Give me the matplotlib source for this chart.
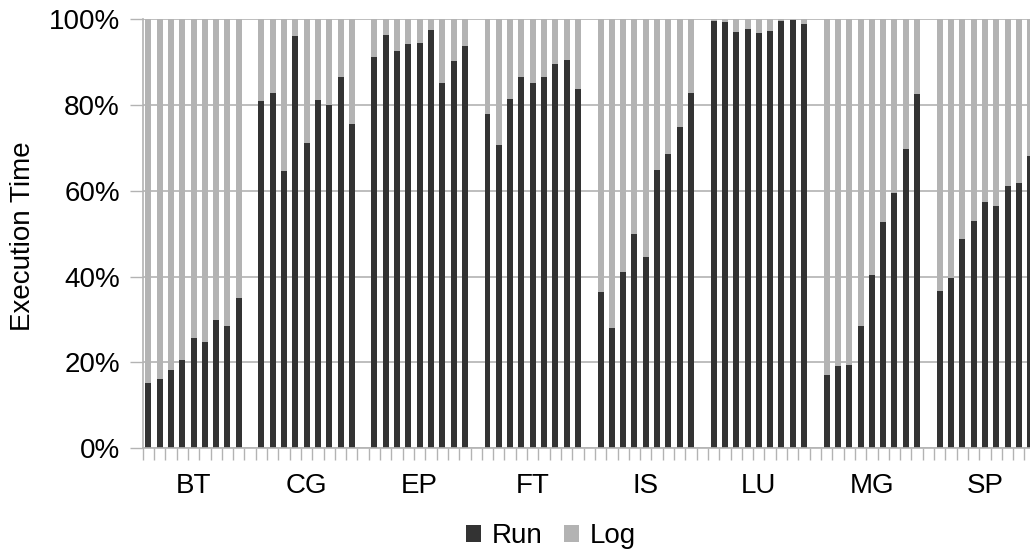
import matplotlib.pyplot as plt
import numpy as np

plt.rcParams['font.family'] = ['Liberation Sans', 'DejaVu Sans']

# benchmarks and the Run share (%) of each of the 9 configurations
benchmarks = ["BT", "CG", "EP", "FT", "IS", "LU", "MG", "SP"]
run_BT = [15.3, 16.2, 18.3, 20.6, 25.8, 24.8, 30.0, 28.6, 34.9]
run_CG = [81.0, 82.8, 64.6, 96.1, 71.0, 81.2, 80.0, 86.6, 75.6]
run_EP = [91.2, 96.3, 92.6, 94.2, 94.5, 97.5, 85.2, 90.3, 93.8]
run_FT = [77.9, 70.7, 81.4, 86.6, 85.2, 86.6, 89.6, 90.5, 83.8]
run_IS = [36.5, 28.1, 41.1, 50.0, 44.6, 64.9, 68.6, 74.9, 82.8]
run_LU = [99.6, 99.4, 97.0, 97.7, 96.8, 97.3, 99.6, 99.8, 98.9]
run_MG = [17.1, 19.2, 19.5, 28.6, 40.4, 52.6, 59.5, 69.8, 82.6]
run_SP = [36.7, 39.7, 48.8, 53.0, 57.4, 56.5, 61.2, 61.9, 68.2]
run_share = [run_BT, run_CG, run_EP, run_FT, run_IS, run_LU, run_MG, run_SP]

RUN_COLOR = "#333333"
LOG_COLOR = "#b3b3b3"
AXIS_COLOR = "#b3b3b3"
FS = 20

fig = plt.figure(figsize=(10.30, 5.52), dpi=100)
# the chart is cropped on the right, so the axes runs past the figure edge
ax = fig.add_axes([142.7 / 1030, 1 - 448.3 / 552, (1047.1 - 142.7) / 1030, (448.3 - 19) / 552])

slots = 10  # 9 bars + 1 empty slot per group
width = 0.53
for g, vals in enumerate(run_share):
    x = g * slots + np.arange(len(vals))
    run = np.array(vals)
    log = 100 - run
    ax.bar(x, run, width, color=RUN_COLOR, zorder=2, label="Run" if g == 0 else None)
    ax.bar(x, log, width, bottom=run, color=LOG_COLOR, zorder=2, label="Log" if g == 0 else None)

n_slots = slots * len(benchmarks)
ax.set_xlim(-0.5, n_slots - 0.5)
ax.set_ylim(0, 100)

ax.set_yticks(np.arange(0, 101, 20))
ax.set_yticklabels([f"{v}%" for v in range(0, 101, 20)], fontsize=FS)
ax.yaxis.grid(True, color=AXIS_COLOR, linewidth=1.2, zorder=0)

ax.set_xticks(np.arange(n_slots + 1) - 0.5)
ax.set_xticklabels([])
ax.set_xticks([g * slots + 4 for g in range(len(benchmarks))], minor=True)
ax.set_xticklabels(benchmarks, minor=True, fontsize=FS)
ax.tick_params(axis="x", which="major", length=8.6, width=1, color=AXIS_COLOR)
ax.tick_params(axis="x", which="minor", length=0, pad=18)
ax.tick_params(axis="y", length=9.4, width=1, color=AXIS_COLOR, pad=7)

for side in ["top", "right"]:
    ax.spines[side].set_visible(False)
for side in ["left", "bottom"]:
    ax.spines[side].set_color(AXIS_COLOR)
    ax.spines[side].set_linewidth(1.2)

fig.text(23 / 1030, 1 - 236 / 552, "Execution Time", rotation=90,
         ha="center", va="center", fontsize=FS)

handles, labels = ax.get_legend_handles_labels()
fig.legend(handles, labels, loc="center", bbox_to_anchor=(551 / 1030, 1 - 536 / 552),
           ncol=2, frameon=False, fontsize=FS, handlelength=0.55, handleheight=0.55,
           handletextpad=0.4, columnspacing=0.75, borderpad=0, borderaxespad=0)

fig.savefig("out.png", dpi=100)
